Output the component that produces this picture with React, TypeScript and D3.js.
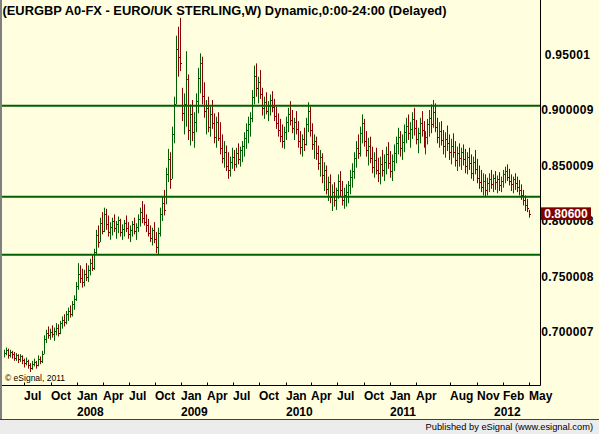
import React from 'react';
import * as d3 from 'd3';

const W = 599;
const H = 434;

// weekly bars starting Apr 20 2007
const firstWeek = new Date(2007, 3, 20);

const highs = [
  0.684,0.686,0.685,0.684,0.683,0.682,0.681,0.680,0.680,0.679,
  0.676,0.677,0.675,0.672,0.674,0.676,0.674,0.679,0.678,0.683,
  0.697,0.702,0.705,0.703,0.706,0.704,0.708,0.707,0.710,0.714,
  0.716,0.719,0.722,0.724,0.728,0.733,0.745,0.762,0.760,0.757,
  0.756,0.762,0.760,0.766,0.769,0.775,0.792,0.796,0.803,0.808,
  0.812,0.811,0.805,0.799,0.803,0.806,0.800,0.804,0.802,0.797,
  0.801,0.805,0.799,0.796,0.800,0.803,0.798,0.806,0.812,0.818,
  0.815,0.806,0.802,0.796,0.794,0.799,0.790,0.794,0.812,0.822,
  0.828,0.848,0.865,0.862,0.885,0.912,0.967,0.975,0.983,0.920,
  0.915,0.953,0.932,0.905,0.909,0.898,0.915,0.938,0.951,0.948,
  0.925,0.909,0.912,0.903,0.909,0.897,0.894,0.898,0.889,0.878,
  0.872,0.868,0.862,0.858,0.866,0.864,0.866,0.870,0.867,0.872,
  0.880,0.888,0.894,0.898,0.918,0.940,0.942,0.930,0.936,0.920,
  0.912,0.916,0.908,0.914,0.917,0.910,0.903,0.897,0.892,0.887,
  0.885,0.894,0.902,0.908,0.900,0.893,0.899,0.890,0.881,0.878,
  0.884,0.893,0.907,0.903,0.888,0.878,0.876,0.868,0.864,0.861,
  0.853,0.850,0.840,0.842,0.833,0.835,0.830,0.842,0.845,0.836,
  0.830,0.833,0.836,0.846,0.852,0.862,0.872,0.878,0.885,0.896,
  0.892,0.881,0.875,0.876,0.867,0.862,0.866,0.857,0.858,0.864,
  0.860,0.867,0.871,0.863,0.860,0.869,0.876,0.884,0.881,0.878,
  0.887,0.893,0.896,0.889,0.898,0.902,0.891,0.884,0.893,0.899,
  0.890,0.881,0.892,0.900,0.905,0.909,0.906,0.893,0.889,0.890,
  0.882,0.880,0.886,0.878,0.874,0.879,0.872,0.867,0.870,0.866,
  0.869,0.865,0.862,0.866,0.860,0.858,0.864,0.856,0.850,0.846,
  0.843,0.842,0.839,0.843,0.846,0.842,0.845,0.841,0.844,0.840,
  0.846,0.849,0.851,0.847,0.842,0.840,0.843,0.840,0.837,0.833,
  0.828,0.823,0.820,0.810,
];

const lows = [
  0.677,0.679,0.676,0.677,0.676,0.674,0.674,0.672,0.673,0.671,
  0.668,0.670,0.667,0.664,0.666,0.669,0.667,0.669,0.671,0.672,
  0.680,0.690,0.694,0.693,0.695,0.692,0.697,0.696,0.698,0.703,
  0.705,0.707,0.710,0.713,0.714,0.720,0.728,0.738,0.744,0.740,
  0.741,0.746,0.745,0.751,0.755,0.756,0.770,0.776,0.781,0.788,
  0.790,0.792,0.786,0.783,0.787,0.790,0.784,0.789,0.786,0.783,
  0.786,0.790,0.784,0.781,0.786,0.788,0.783,0.790,0.795,0.798,
  0.796,0.790,0.786,0.781,0.778,0.780,0.771,0.770,0.786,0.800,
  0.805,0.815,0.835,0.829,0.838,0.870,0.905,0.930,0.935,0.890,
  0.878,0.885,0.873,0.868,0.872,0.866,0.880,0.897,0.915,0.905,
  0.893,0.878,0.880,0.876,0.883,0.870,0.866,0.872,0.860,0.852,
  0.848,0.845,0.838,0.840,0.847,0.845,0.848,0.851,0.849,0.853,
  0.858,0.865,0.870,0.876,0.889,0.905,0.912,0.906,0.910,0.895,
  0.892,0.896,0.890,0.895,0.898,0.890,0.883,0.876,0.871,0.866,
  0.865,0.873,0.880,0.886,0.879,0.873,0.878,0.866,0.860,0.858,
  0.863,0.868,0.880,0.876,0.864,0.856,0.855,0.846,0.840,0.834,
  0.827,0.824,0.818,0.816,0.809,0.813,0.810,0.820,0.822,0.814,
  0.811,0.813,0.816,0.824,0.830,0.838,0.848,0.856,0.858,0.870,
  0.867,0.858,0.850,0.852,0.843,0.839,0.842,0.835,0.833,0.840,
  0.836,0.842,0.847,0.839,0.836,0.845,0.852,0.860,0.858,0.855,
  0.862,0.870,0.873,0.866,0.874,0.877,0.869,0.861,0.870,0.876,
  0.866,0.860,0.869,0.876,0.879,0.884,0.880,0.870,0.866,0.868,
  0.860,0.857,0.863,0.855,0.851,0.857,0.849,0.845,0.849,0.846,
  0.850,0.843,0.842,0.846,0.838,0.836,0.842,0.834,0.829,0.826,
  0.823,0.822,0.823,0.826,0.829,0.826,0.828,0.825,0.827,0.826,
  0.830,0.834,0.836,0.832,0.827,0.825,0.828,0.826,0.823,0.819,
  0.814,0.809,0.808,0.803,
];

const closes = [
  0.681,0.684,0.679,0.682,0.680,0.677,0.679,0.676,0.678,0.675,
  0.672,0.674,0.670,0.668,0.671,0.673,0.670,0.676,0.674,0.680,
  0.694,0.699,0.697,0.700,0.698,0.701,0.704,0.699,0.708,0.711,
  0.709,0.716,0.719,0.716,0.725,0.730,0.741,0.752,0.749,0.745,
  0.752,0.750,0.756,0.762,0.758,0.772,0.787,0.781,0.798,0.791,
  0.806,0.797,0.790,0.795,0.800,0.794,0.797,0.801,0.790,0.793,
  0.798,0.794,0.788,0.792,0.797,0.791,0.795,0.802,0.808,0.803,
  0.799,0.796,0.789,0.785,0.792,0.784,0.777,0.789,0.806,0.816,
  0.810,0.842,0.856,0.838,0.878,0.905,0.955,0.948,0.942,0.897,
  0.905,0.928,0.882,0.896,0.880,0.889,0.908,0.929,0.942,0.913,
  0.899,0.902,0.885,0.896,0.888,0.876,0.889,0.875,0.866,0.857,
  0.862,0.850,0.846,0.853,0.858,0.851,0.861,0.856,0.864,0.868,
  0.875,0.882,0.887,0.893,0.912,0.931,0.920,0.925,0.914,0.902,
  0.907,0.899,0.904,0.909,0.903,0.895,0.888,0.882,0.877,0.872,
  0.880,0.889,0.896,0.891,0.884,0.889,0.883,0.872,0.867,0.874,
  0.869,0.887,0.899,0.882,0.869,0.872,0.861,0.852,0.858,0.841,
  0.846,0.829,0.835,0.822,0.826,0.819,0.828,0.836,0.828,0.819,
  0.823,0.826,0.832,0.840,0.845,0.857,0.866,0.861,0.879,0.888,
  0.872,0.864,0.868,0.857,0.849,0.855,0.846,0.843,0.851,0.846,
  0.853,0.860,0.852,0.845,0.854,0.861,0.870,0.876,0.866,0.871,
  0.880,0.886,0.879,0.883,0.892,0.884,0.874,0.879,0.888,0.882,
  0.871,0.876,0.887,0.893,0.887,0.898,0.885,0.876,0.881,0.873,
  0.868,0.874,0.870,0.862,0.868,0.862,0.855,0.861,0.857,0.862,
  0.856,0.850,0.858,0.852,0.843,0.853,0.847,0.839,0.835,0.831,
  0.836,0.828,0.834,0.838,0.833,0.839,0.835,0.838,0.832,0.836,
  0.842,0.845,0.840,0.836,0.833,0.838,0.834,0.831,0.828,0.823,
  0.819,0.814,0.812,0.806,
];

const priceTicks = [0.95001, 0.900009, 0.850009, 0.800008, 0.750008, 0.700007];
const priceTickLabels = ['0.95001', '0.900009', '0.850009', '0.800008', '0.750008', '0.700007'];

const supportLines = [0.9039, 0.8218, 0.7696];
const lastPrice = 0.806;
const lastPriceLabel = '0.80600';

const monthTicks = [
  '2007-07-01', '2007-10-01', '2008-01-01', '2008-04-01', '2008-07-01', '2008-10-01',
  '2009-01-01', '2009-04-01', '2009-07-01', '2009-10-01', '2010-01-01', '2010-04-01',
  '2010-07-01', '2010-10-01', '2011-01-01', '2011-04-01', '2011-08-01', '2011-11-01',
  '2012-02-01', '2012-05-01',
];
const monthLabels = [
  'Jul', 'Oct', 'Jan', 'Apr', 'Jul', 'Oct', 'Jan', 'Apr', 'Jul', 'Oct', 'Jan', 'Apr',
  'Jul', 'Oct', 'Jan', 'Apr', 'Aug', 'Nov', 'Feb', 'May',
];
const yearTicks = ['2008-01-01', '2009-01-01', '2010-01-01', '2011-01-01', '2012-01-01'];
const yearLabels = ['2008', '2009', '2010', '2011', '2012'];

const titleText = '(EURGBP A0-FX - EURO/UK STERLING,W) Dynamic,0:00-24:00 (Delayed)';

const BG = '#ffffe0';
const GREEN = '#006000';
const RED = '#8b0000';
const FONT = "'Liberation Sans', Arial, sans-serif";

function parse(s: string) {
  const [y, m, d] = s.split('-').map(Number);
  return new Date(y, m - 1, d);
}

export default function App() {
  const x = d3.scaleTime().domain([new Date(2008, 0, 1), new Date(2012, 0, 1)]).range([77, 494]);
  const y = d3.scaleLinear().domain([0.7, 0.9]).range([332, 110]);

  const plotLeft = 2;
  const plotRight = 540.5;
  const axisY = 385.5;

  const bars = closes.map((c, i) => {
    const date = d3.timeDay.offset(firstWeek, 7 * i);
    const prev = i > 0 ? closes[i - 1] : c;
    return { date, h: highs[i], l: lows[i], c, up: c >= prev };
  });

  return (
    <div style={{ position: 'absolute', left: 0, top: 0 }}>
      <svg width={W} height={H} style={{ display: 'block' }}>
        <rect x={0} y={0} width={W} height={H} fill={BG} />
        <line x1={1} y1={0} x2={1} y2={419} stroke="#808080" strokeWidth={2} />

        {bars.map((b, i) => {
          const xx = Math.round(x(b.date)) + 0.5;
          const col = b.up ? GREEN : RED;
          const cy = Math.round(y(b.c)) + 0.5;
          return (
            <g key={i} stroke={col} strokeWidth={1}>
              <line x1={xx} x2={xx} y1={y(b.h)} y2={y(b.l)} />
              <line x1={xx} x2={xx + 1.5} y1={cy} y2={cy} />
            </g>
          );
        })}

        {supportLines.map((v, i) => (
          <line key={i} x1={plotLeft} x2={plotRight} y1={y(v)} y2={y(v)} stroke={GREEN} strokeWidth={2} />
        ))}

        <line x1={plotRight} x2={plotRight} y1={0} y2={axisY} stroke="#000" strokeWidth={1} />
        <line x1={plotLeft} x2={plotRight} y1={axisY} y2={axisY} stroke="#000" strokeWidth={1} />

        {monthTicks.map((t, i) => {
          const xx = Math.round(x(parse(t))) + 0.5;
          return (
            <g key={i}>
              <line x1={xx} x2={xx} y1={axisY - 3} y2={axisY} stroke="#000" />
              <text x={xx - 0.5} y={399.5} fontFamily={FONT} fontWeight="bold" fontSize={12} fill="#000">
                {monthLabels[i]}
              </text>
            </g>
          );
        })}
        {yearTicks.map((t, i) => (
          <text key={i} x={Math.round(x(parse(t)))} y={416} fontFamily={FONT} fontWeight="bold" fontSize={12} fill="#000">
            {yearLabels[i]}
          </text>
        ))}

        {priceTicks.map((v, i) => (
          <text key={i} x={567.5} y={y(v) + 4.3} textAnchor="middle" fontFamily={FONT} fontWeight="bold" fontSize={12} fill="#000" letterSpacing={0.3}>
            {priceTickLabels[i]}
          </text>
        ))}

        <rect x={541} y={y(lastPrice) - 7} width={50} height={12.6} fill="#800000" />
        <text x={566} y={y(lastPrice) + 3.6} textAnchor="middle" fontFamily={FONT} fontWeight="bold" fontSize={12} fill="#fff">
          {lastPriceLabel}
        </text>

        <text x={2.5} y={15} fontFamily={FONT} fontWeight="bold" fontSize={12.5} fill="#000" textLength={444} lengthAdjust="spacingAndGlyphs">
          {titleText}
        </text>

        <text x={5} y={381} fontFamily={FONT} fontSize={8.5} fill="#000">
          © eSignal, 2011
        </text>

        <rect x={0} y={419} width={W} height={H - 419} fill="#ececec" />
        <line x1={0} x2={W} y1={419.5} y2={419.5} stroke="#404040" />
        <text x={593} y={430} textAnchor="end" fontFamily={FONT} fontSize={9.3} fill="#000">
          Published by eSignal (www.esignal.com)
        </text>
      </svg>
    </div>
  );
}
